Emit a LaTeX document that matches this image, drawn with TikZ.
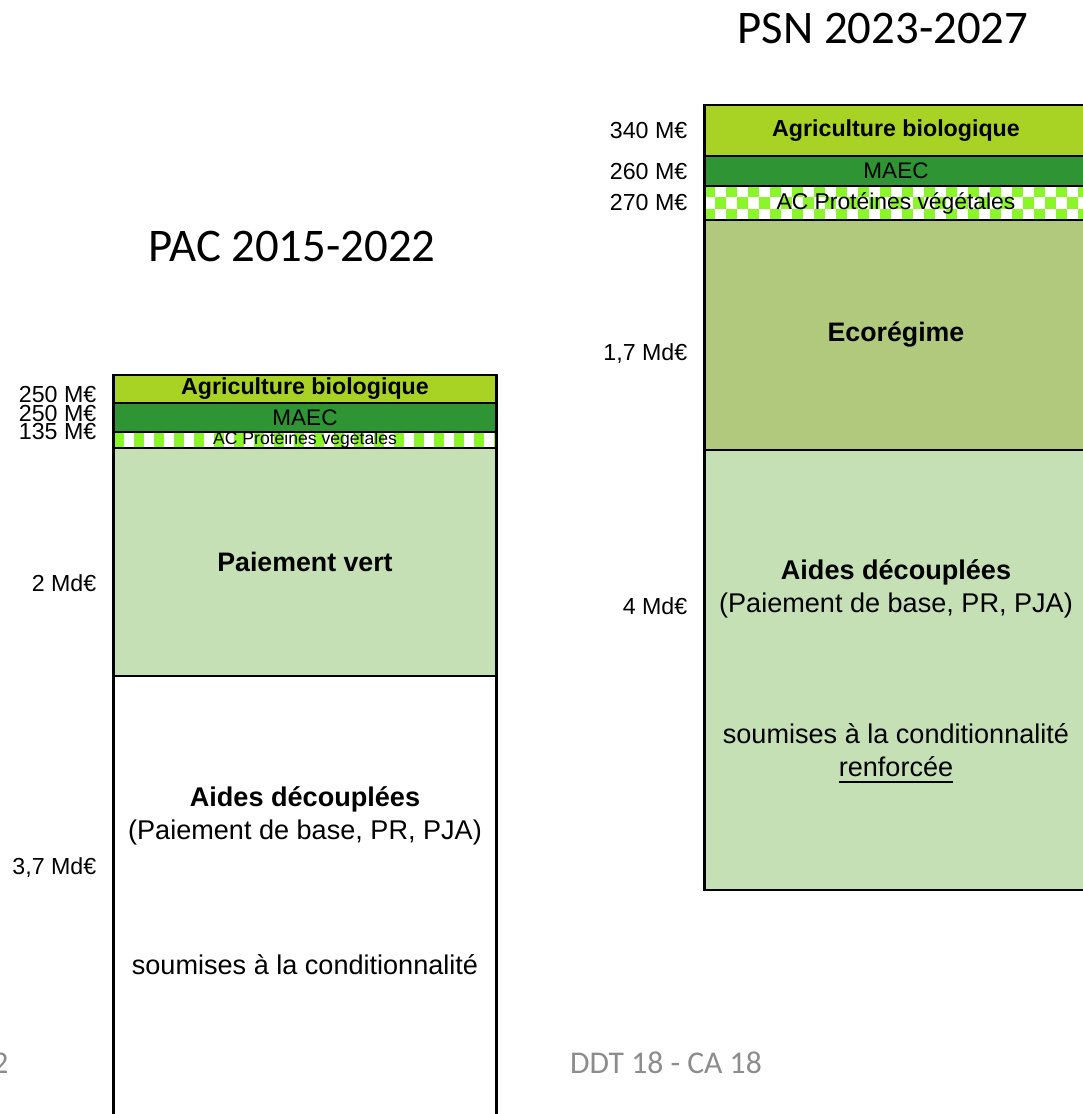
\documentclass[tikz,border=0pt]{standalone}
\usepackage{fontspec}
\setmainfont{Liberation Sans}
\newfontfamily\calibri{Carlito}
\usetikzlibrary{positioning}
\definecolor{bio}{RGB}{168,210,36}
\definecolor{maec}{RGB}{46,148,52}
\definecolor{chk}{RGB}{138,245,40}
\definecolor{vert}{RGB}{197,224,180}
\definecolor{eco}{RGB}{176,201,125}
\definecolor{footgray}{RGB}{140,140,140}
\tikzset{
	seg/.style={draw,rectangle,line width=0.7pt,minimum width=3.83cm,inner sep=0pt,align=center},
	val/.style={anchor=east,inner sep=0pt,font=\fontsize{6.6}{8}\selectfont},
	txt/.style={align=center,font=\fontsize{7.7}{9.4}\selectfont},
	title/.style={font=\calibri\fontsize{13.3}{16}\selectfont},
	foot/.style={font=\calibri\fontsize{9}{11}\selectfont,text=footgray}
}

\begin{document}
\begin{tikzpicture}[x=0.01cm,y=-0.01cm]
            \path[use as bounding box,clip] (0,0) rectangle (1083,1114);
            \node[title] (pac) at (292,246) {PAC 2015-2022};
            \node[title] (psn) at (883,28) {PSN 2023-2027};
            % checkered bands
            \begin{scope}
                \clip (114,432) rectangle (496,448);
                \foreach \c in {0,2,...,38}
                    \fill[chk] (114+\c*10,432) rectangle ++(10,16);
            \end{scope}
            \begin{scope}
                \clip (704,186) rectangle (1088,220);
                \foreach \r in {0,1,2} \foreach \c in {0,...,34} {
                    \pgfmathtruncatemacro\k{mod(\r+\c,2)}
                    \ifnum\k=0 \fill[chk] (704+\c*11,186+\r*11.4) rectangle ++(11,11.4); \fi
                }
            \end{scope}
            % PAC 2015-2022
            \node[seg,fill=white,minimum height=4.48cm] (aidesL) at (305,900) {};
            \node[seg,fill=vert,minimum height=2.28cm,font=\bfseries\fontsize{7.6}{9}\selectfont] (vertL) at (305,562) {Paiement vert};
            \node[seg,minimum height=0.16cm,text height=3.4pt,text depth=1pt,font=\fontsize{5}{6}\selectfont] (acL) at (305,440) {AC Protéines végétales};
            \node[seg,fill=maec,minimum height=0.29cm,font=\fontsize{6.4}{8}\selectfont] (maecL) at (305,417.5) {MAEC};
            \node[seg,fill=bio,minimum height=0.28cm,font=\bfseries\fontsize{6.6}{8}\selectfont] (bioL) at (305,389) {Agriculture biologique};
            \node[txt] (aidesLt) at (305,816) {\textbf{Aides découplées}\\(Paiement de base, PR, PJA)};
            \node[txt] (condL) at (305,965) {soumises à la conditionnalité};
            \node[val] (v250a) at (97,394) {250 M€};
            \node[val] (v250b) at (97,413) {250 M€};
            \node[val] (v135) at (97,431) {135 M€};
            \node[val] (v2) at (97,583) {2 Md€};
            \node[val] (v37) at (97,868) {3,7 Md€};
            % PSN 2023-2027
            \node[seg,fill=vert,minimum height=4.40cm] (aidesR) at (896,670) {};
            \node[seg,fill=eco,minimum height=2.30cm,font=\bfseries\fontsize{7.6}{9}\selectfont] (ecoR) at (896,335) {Ecorégime};
            \node[seg,minimum height=0.34cm,font=\fontsize{6.5}{8}\selectfont] (acR) at (896,203) {AC Protéines végétales};
            \node[seg,fill=maec,minimum height=0.30cm,font=\fontsize{6.4}{8}\selectfont] (maecR) at (896,171) {MAEC};
            \node[seg,fill=bio,minimum height=0.51cm,font=\bfseries\fontsize{6.6}{8}\selectfont] (bioR) at (896,130.5) {Agriculture biologique};
            \node[txt] (aidesRt) at (896,589) {\textbf{Aides découplées}\\(Paiement de base, PR, PJA)};
            \node[txt] (condR) at (896,754) {soumises à la conditionnalité\\\underline{renforcée}};
            \node[val] (v340) at (688,131) {340 M€};
            \node[val] (v260) at (688,171) {260 M€};
            \node[val] (v270) at (688,203) {270 M€};
            \node[val] (v17) at (688,354) {1,7 Md€};
            \node[val] (v4) at (688,606) {4 Md€};
            % footer
            \node[foot] (ddt) at (666,1063) {DDT 18 - CA 18};
            \node[foot,anchor=east,inner sep=0pt] (pg) at (9,1063) {2};
        \end{tikzpicture}
\end{document}
